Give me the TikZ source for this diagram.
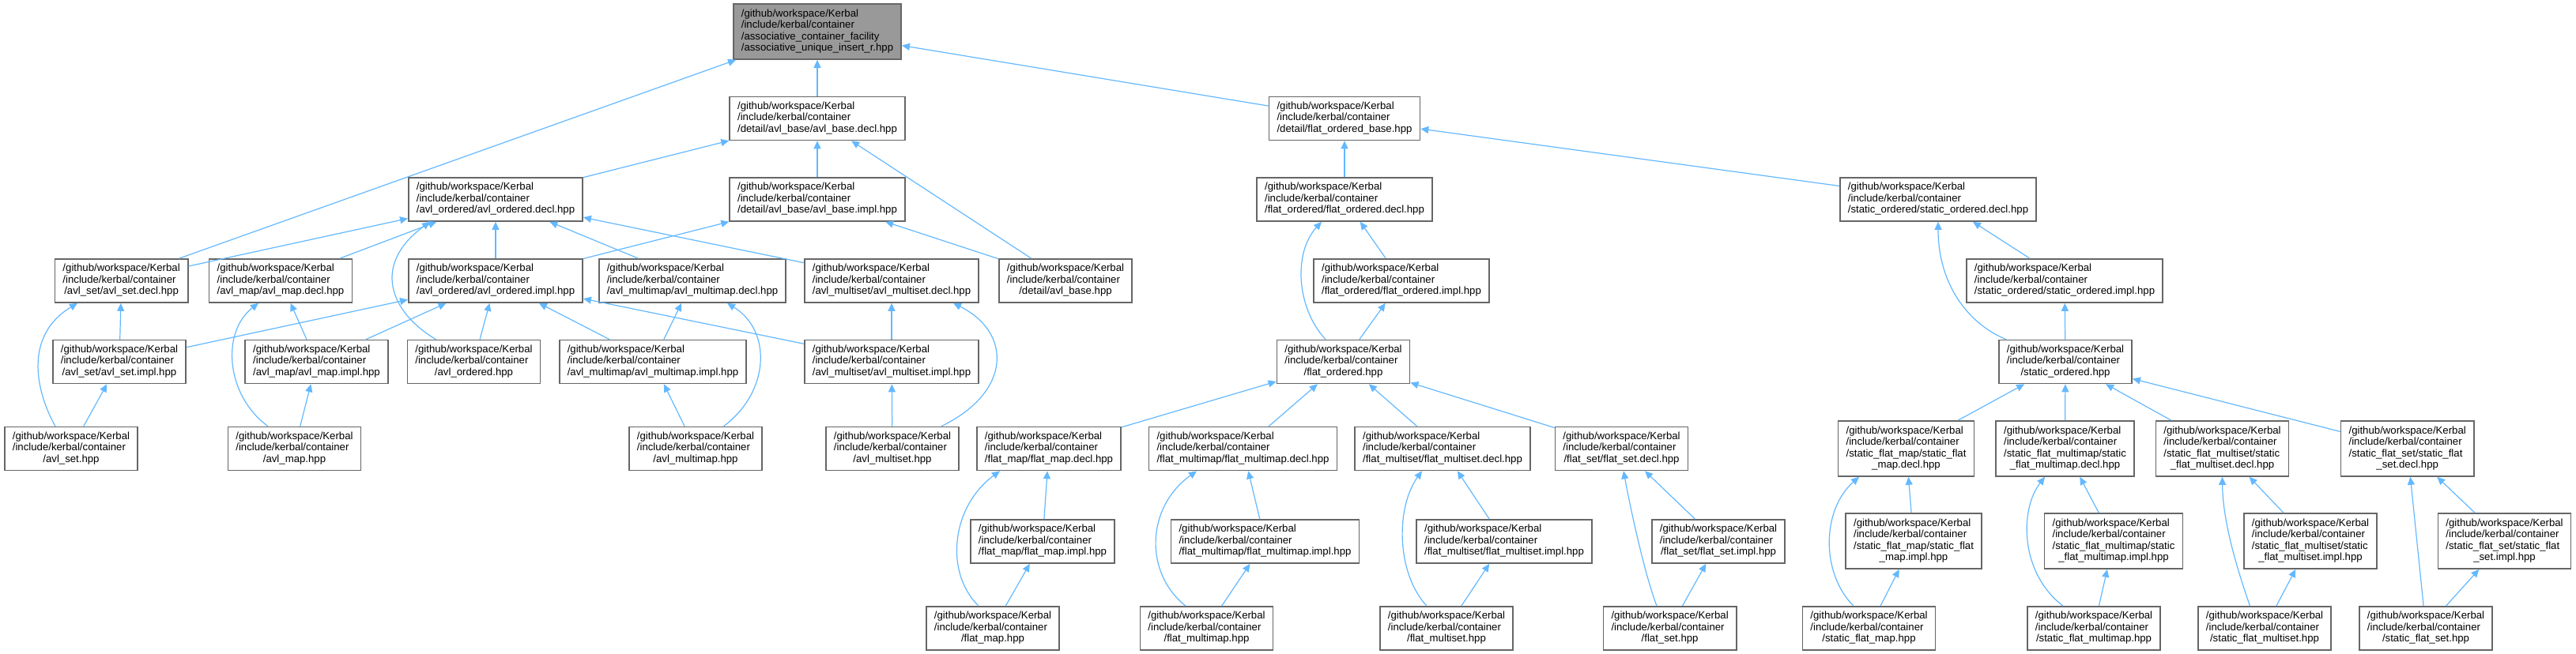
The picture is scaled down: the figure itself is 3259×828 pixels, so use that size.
\documentclass[tikz,border=0pt]{standalone}
\usepackage{fontspec}
\setmainfont{Liberation Sans}
\usetikzlibrary{arrows.meta}
\definecolor{edgeblue}{HTML}{63B8FF}
\definecolor{boxgray}{HTML}{666666}
\definecolor{hlgray}{HTML}{999999}
\tikzstyle{file}   = [draw=boxgray, line width=0.8pt, fill=white, inner xsep=5pt, inner ysep=0pt, minimum height=27.5pt, font=\fontsize{6.6pt}{7.25pt}\selectfont]
\tikzstyle{tall}   = [minimum height=35pt]
\tikzstyle{arrow}  = [draw=edgeblue, line width=0.6pt, -{Triangle[length=5pt,width=4.5pt]}]
\newcommand{\kpath}[1]{\begin{tabular}{@{}l@{}}/github/workspace/Kerbal\\/include/kerbal/container\\\multicolumn{1}{@{}c@{}}{#1}\end{tabular}}
\newcommand{\kpathx}[2]{\begin{tabular}{@{}l@{}}/github/workspace/Kerbal\\/include/kerbal/container\\#1\\\multicolumn{1}{@{}c@{}}{#2}\end{tabular}}

\begin{document}
\begin{tikzpicture}[x=0.5pt, y=0.5pt]
\useasboundingbox (0,0) rectangle (3259,-828);

% header and bases
\node[file,tall,fill=hlgray] (top) at (1034,-40) {\kpathx{/associative\_container\_facility}{/associative\_unique\_insert\_r.hpp}};
\node[file] (avlbasedecl)  at (1034,-150) {\kpath{/detail/avl\_base/avl\_base.decl.hpp}};
\node[file] (flatbase)     at (1701,-150) {\kpath{/detail/flat\_ordered\_base.hpp}};

\node[file] (avlordecl)    at (627,-252.5)  {\kpath{/avl\_ordered/avl\_ordered.decl.hpp}};
\node[file] (avlbaseimpl)  at (1034,-252.5) {\kpath{/detail/avl\_base/avl\_base.impl.hpp}};
\node[file] (flatordecl)   at (1701,-252.5) {\kpath{/flat\_ordered/flat\_ordered.decl.hpp}};
\node[file] (statordecl)   at (2452,-252.5) {\kpath{/static\_ordered/static\_ordered.decl.hpp}};

% avl
\node[file] (avlsetdecl)   at (153.6,-355.5) {\kpath{/avl\_set/avl\_set.decl.hpp}};
\node[file] (avlmapdecl)   at (355,-355.5)   {\kpath{/avl\_map/avl\_map.decl.hpp}};
\node[file] (avlorimpl)    at (627,-355.5)   {\kpath{/avl\_ordered/avl\_ordered.impl.hpp}};
\node[file] (avlmmapdecl)  at (876,-355.5)   {\kpath{/avl\_multimap/avl\_multimap.decl.hpp}};
\node[file] (avlmsetdecl)  at (1128,-355.5)  {\kpath{/avl\_multiset/avl\_multiset.decl.hpp}};
\node[file] (avlbase)      at (1348,-355.5)  {\kpath{/detail/avl\_base.hpp}};
\node[file] (flatorimpl)   at (1773,-355.5)  {\kpath{/flat\_ordered/flat\_ordered.impl.hpp}};
\node[file] (statorimpl)   at (2612,-355.5)  {\kpath{/static\_ordered/static\_ordered.impl.hpp}};

\node[file] (avlsetimpl)   at (151,-458)    {\kpath{/avl\_set/avl\_set.impl.hpp}};
\node[file] (avlmapimpl)   at (400.5,-458)  {\kpath{/avl\_map/avl\_map.impl.hpp}};
\node[file] (avlor)        at (599.5,-458)  {\kpath{/avl\_ordered.hpp}};
\node[file] (avlmmapimpl)  at (826,-458)    {\kpath{/avl\_multimap/avl\_multimap.impl.hpp}};
\node[file] (avlmsetimpl)  at (1128,-458)   {\kpath{/avl\_multiset/avl\_multiset.impl.hpp}};
\node[file] (flator)       at (1699.5,-458) {\kpath{/flat\_ordered.hpp}};
\node[file] (stator)       at (2613,-458)   {\kpath{/static\_ordered.hpp}};

\node[file] (avlset)       at (90,-568)     {\kpath{/avl\_set.hpp}};
\node[file] (avlmap)       at (372.5,-568)  {\kpath{/avl\_map.hpp}};
\node[file] (avlmmap)      at (880,-568)    {\kpath{/avl\_multimap.hpp}};
\node[file] (avlmset)      at (1129,-568)   {\kpath{/avl\_multiset.hpp}};

% flat
\node[file] (flatmapdecl)  at (1327,-568)   {\kpath{/flat\_map/flat\_map.decl.hpp}};
\node[file] (flatmmapdecl) at (1572.5,-568) {\kpath{/flat\_multimap/flat\_multimap.decl.hpp}};
\node[file] (flatmsetdecl) at (1825,-568)   {\kpath{/flat\_multiset/flat\_multiset.decl.hpp}};
\node[file] (flatsetdecl)  at (2051.5,-568) {\kpath{/flat\_set/flat\_set.decl.hpp}};

\node[file] (flatmapimpl)  at (1319,-685.5)   {\kpath{/flat\_map/flat\_map.impl.hpp}};
\node[file] (flatmmapimpl) at (1600.5,-685.5) {\kpath{/flat\_multimap/flat\_multimap.impl.hpp}};
\node[file] (flatmsetimpl) at (1903,-685.5)   {\kpath{/flat\_multiset/flat\_multiset.impl.hpp}};
\node[file] (flatsetimpl)  at (2174,-685.5)   {\kpath{/flat\_set/flat\_set.impl.hpp}};

\node[file] (flatmap)      at (1256,-795.5)   {\kpath{/flat\_map.hpp}};
\node[file] (flatmmap)     at (1526.5,-795.5) {\kpath{/flat\_multimap.hpp}};
\node[file] (flatmset)     at (1830,-795.5)   {\kpath{/flat\_multiset.hpp}};
\node[file] (flatset)      at (2112.6,-795.5) {\kpath{/flat\_set.hpp}};

% static
\node[file,tall] (sfmapdecl)  at (2411.5,-568) {\kpathx{/static\_flat\_map/static\_flat}{\_map.decl.hpp}};
\node[file,tall] (sfmmapdecl) at (2612.5,-568) {\kpathx{/static\_flat\_multimap/static}{\_flat\_multimap.decl.hpp}};
\node[file,tall] (sfmsetdecl) at (2811.5,-568) {\kpathx{/static\_flat\_multiset/static}{\_flat\_multiset.decl.hpp}};
\node[file,tall] (sfsetdecl)  at (3045.7,-568) {\kpathx{/static\_flat\_set/static\_flat}{\_set.decl.hpp}};

\node[file,tall] (sfmapimpl)  at (2421,-685)   {\kpathx{/static\_flat\_map/static\_flat}{\_map.impl.hpp}};
\node[file,tall] (sfmmapimpl) at (2674,-685)   {\kpathx{/static\_flat\_multimap/static}{\_flat\_multimap.impl.hpp}};
\node[file,tall] (sfmsetimpl) at (2923,-685)   {\kpathx{/static\_flat\_multiset/static}{\_flat\_multiset.impl.hpp}};
\node[file,tall] (sfsetimpl)  at (3168.5,-685)  {\kpathx{/static\_flat\_set/static\_flat}{\_set.impl.hpp}};

\node[file] (sfmap)        at (2364.5,-795.5) {\kpath{/static\_flat\_map.hpp}};
\node[file] (sfmmap)       at (2649,-795.5)   {\kpath{/static\_flat\_multimap.hpp}};
\node[file] (sfmset)       at (2865,-795.5)   {\kpath{/static\_flat\_multiset.hpp}};
\node[file] (sfset)        at (3069,-795.5)   {\kpath{/static\_flat\_set.hpp}};

% edges to the header and bases
\draw[arrow] (avlbasedecl) -- (top);
\draw[arrow] ([xshift=-6pt]avlsetdecl.north east) -- ([xshift=2pt]top.south west);
\draw[arrow] (flatbase) -- (top);
\draw[arrow] (avlordecl) -- (avlbasedecl);
\draw[arrow] (avlbaseimpl) -- (avlbasedecl);
\draw[arrow] (avlbase) -- (avlbasedecl);
\draw[arrow] (flatordecl) -- (flatbase);
\draw[arrow] (statordecl) -- (flatbase);

% avl edges
\draw[arrow] (avlsetdecl) -- (avlordecl);
\draw[arrow] (avlmapdecl) -- (avlordecl);
\draw[arrow] (avlorimpl) -- (avlordecl);
\draw[arrow] (avlmmapdecl) -- (avlordecl);
\draw[arrow] (avlmsetdecl) -- (avlordecl);
\draw[arrow] ([xshift=-24pt]avlor.north) .. controls (493,-395) and (470,-335) .. ([xshift=-41.5pt]avlordecl.south);
\draw[arrow] (avlorimpl) -- (avlbaseimpl);
\draw[arrow] (avlbase) -- (avlbaseimpl);
\draw[arrow] (avlsetimpl) -- (avlorimpl);
\draw[arrow] (avlmapimpl) -- (avlorimpl);
\draw[arrow] (avlor) -- (avlorimpl);
\draw[arrow] (avlmmapimpl) -- (avlorimpl);
\draw[arrow] (avlmsetimpl) -- (avlorimpl);
\draw[arrow] (avlsetimpl) -- (avlsetdecl);
\draw[arrow] ([xshift=-10pt]avlset.north) .. controls (45,-495) and (30,-425) .. ([xshift=-27.8pt]avlsetdecl.south);
\draw[arrow] (avlmapimpl) -- (avlmapdecl);
\draw[arrow] ([xshift=-16.75pt]avlmap.north) .. controls (285,-500) and (280,-420) .. ([xshift=-14pt]avlmapdecl.south);
\draw[arrow] (avlmmapimpl) -- (avlmmapdecl);
\draw[arrow] ([xshift=17.75pt]avlmmap.north) .. controls (975,-495) and (976,-418) .. ([xshift=22pt]avlmmapdecl.south);
\draw[arrow] (avlmsetimpl) -- (avlmsetdecl);
\draw[arrow] ([xshift=31pt]avlmset.north) .. controls (1282,-495) and (1279,-420) .. ([xshift=39pt]avlmsetdecl.south);
\draw[arrow] (avlset) -- (avlsetimpl);
\draw[arrow] (avlmap) -- (avlmapimpl);
\draw[arrow] (avlmmap) -- (avlmmapimpl);
\draw[arrow] (avlmset) -- (avlmsetimpl);

% flat edges
\draw[arrow] (flatorimpl) -- (flatordecl);
\draw[arrow] ([xshift=-11.25pt]flator.north) .. controls (1640,-390) and (1636,-320) .. ([xshift=-14.5pt]flatordecl.south);
\draw[arrow] (flator) -- (flatorimpl);
\draw[arrow] (flatmapdecl) -- (flator);
\draw[arrow] (flatmmapdecl) -- (flator);
\draw[arrow] (flatmsetdecl) -- (flator);
\draw[arrow] (flatsetdecl) -- (flator);
\draw[arrow] (flatmapimpl) -- (flatmapdecl);
\draw[arrow] ([xshift=-9pt]flatmap.north) .. controls (1195,-725) and (1203,-642) .. ([xshift=-31pt]flatmapdecl.south);
\draw[arrow] (flatmap) -- (flatmapimpl);
\draw[arrow] (flatmmapimpl) -- (flatmmapdecl);
\draw[arrow] ([xshift=-13.25pt]flatmmap.north) .. controls (1447,-725) and (1450,-642) .. ([xshift=-29.25pt]flatmmapdecl.south);
\draw[arrow] (flatmmap) -- (flatmmapimpl);
\draw[arrow] (flatmsetimpl) -- (flatmsetdecl);
\draw[arrow] ([xshift=-12.5pt]flatmset.north) .. controls (1766,-725) and (1766,-642) .. ([xshift=-13pt]flatmsetdecl.south);
\draw[arrow] (flatmset) -- (flatmsetimpl);
\draw[arrow] (flatsetimpl) -- (flatsetdecl);
\draw[arrow] ([xshift=-8.3pt]flatset.north) .. controls (2080,-725) and (2062,-640) .. ([xshift=1.25pt]flatsetdecl.south);
\draw[arrow] (flatset) -- (flatsetimpl);

% static edges
\draw[arrow] (statorimpl) -- (statordecl);
\draw[arrow] ([xshift=-37.5pt]stator.north) .. controls (2490,-410) and (2452,-360) .. (statordecl.south);
\draw[arrow] (stator) -- (statorimpl);
\draw[arrow] (sfmapdecl) -- (stator);
\draw[arrow] (sfmmapdecl) -- (stator);
\draw[arrow] (sfmsetdecl) -- (stator);
\draw[arrow] (sfsetdecl) -- (stator);
\draw[arrow] (sfmapimpl) -- (sfmapdecl);
\draw[arrow] ([xshift=-9.75pt]sfmap.north) .. controls (2303,-725) and (2305,-645) .. ([xshift=-29.75pt]sfmapdecl.south);
\draw[arrow] (sfmap) -- (sfmapimpl);
\draw[arrow] (sfmmapimpl) -- (sfmmapdecl);
\draw[arrow] ([xshift=-19.5pt]sfmmap.north) .. controls (2555,-725) and (2555,-645) .. ([xshift=-12.75pt]sfmmapdecl.south);
\draw[arrow] (sfmmap) -- (sfmmapimpl);
\draw[arrow] (sfmsetimpl) -- (sfmsetdecl);
\draw[arrow] ([xshift=-9.25pt]sfmset.north) .. controls (2830,-720) and (2812,-660) .. (sfmsetdecl.south);
\draw[arrow] (sfmset) -- (sfmsetimpl);
\draw[arrow] (sfsetimpl) -- (sfsetdecl);
\draw[arrow] (sfset) -- (sfsetdecl);
\draw[arrow] (sfset) -- (sfsetimpl);

\end{tikzpicture}
\end{document}
